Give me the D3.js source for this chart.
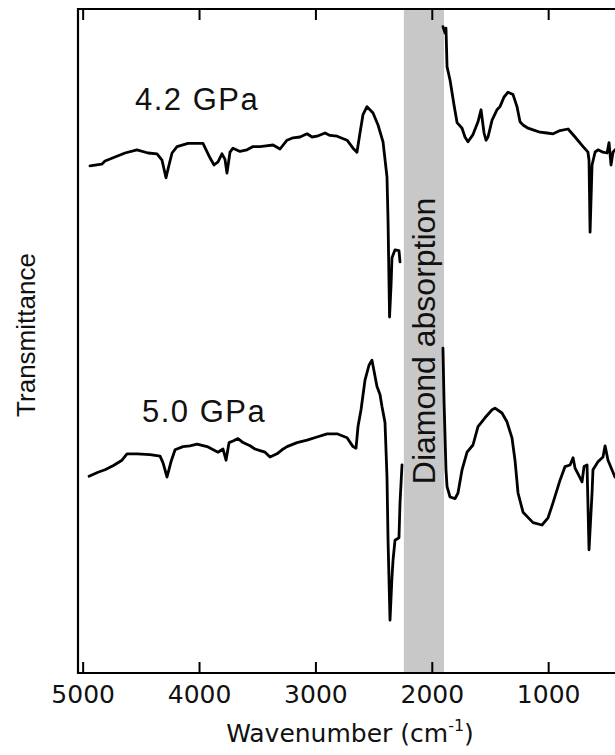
<!DOCTYPE html>
<html>
<head>
<meta charset="utf-8">
<script src="https://cdn.jsdelivr.net/npm/d3@7"></script>
<style>
  html, body { margin: 0; padding: 0; background: #fff; }
  svg { display: block; }
</style>
</head>
<body>
<svg id="chart" width="615" height="755"></svg>
<script>
// IR transmittance spectra of the sample at two pressures (arb. units, offset).
// Each spectrum is split in two pieces around the diamond absorption window.

// 4.2 GPa, high-wavenumber side
const wn42A = [4937,4836,4808,4722,4636,4533,4438,4361,4318,4284,4258,4232,4189,4095,4009,3966,
  3906,3871,3837,3803,3777,3760,3734,3708,3648,3588,3536,3476,3424,3364,3304,3244,3192,3132,
  3072,3029,2986,2917,2875,2814,2728,2677,2643,2617,2591,2557,2505,2462,2419,2385,2376,2363,
  2350,2342,2316,2282,2273];
const tr42A = [63.4,63.6,64.0,64.5,65.0,65.4,65.0,64.9,64.1,61.9,63.5,65.0,65.8,66.2,66.2,66.2,
  64.4,63.5,63.9,64.9,64.2,62.5,65.1,65.6,65.2,65.4,65.8,65.8,65.9,66.0,65.5,66.6,66.9,67.0,
  67.4,67.0,67.1,67.5,67.2,67.1,66.6,65.6,65.1,67.5,69.8,70.8,70.0,68.5,66.4,62.0,56.6,44.5,
  48.5,51.9,52.9,52.8,51.4];

// 4.2 GPa, low-wavenumber side
const wn42B = [1904,1886,1878,1869,1843,1809,1783,1740,1715,1689,1646,1603,1577,1551,1534,1517,
  1482,1440,1414,1379,1345,1302,1268,1242,1216,1173,1130,1070,1010,958,898,829,769,700,658,
  649,640,623,597,572,529,494,477,460,443,426];
const tr42B = [80.8,80.0,80.6,75.8,74.1,71.0,68.8,68.1,67.0,66.4,67.3,68.9,70.4,67.5,66.6,67.0,
  69.1,70.4,70.8,72.0,72.6,72.3,70.8,68.9,68.5,68.1,67.9,67.6,67.5,67.4,67.8,68.0,67.0,65.8,
  65.1,64.1,55.1,63.5,65.1,65.4,65.1,65.0,66.3,63.5,65.1,65.4];

// 5.0 GPa, high-wavenumber side
const wn50A = [4945,4868,4808,4739,4662,4619,4533,4421,4335,4310,4275,4241,4206,4138,4078,4017,
  3931,3837,3794,3768,3742,3708,3665,3622,3562,3519,3476,3433,3390,3330,3287,3244,3158,3072,
  2986,2900,2814,2728,2677,2651,2634,2608,2574,2539,2514,2471,2445,2428,2402,2385,2376,2359,
  2342,2333,2316,2282,2273,2256];
const tr50A = [24.6,25.1,25.4,25.9,26.6,27.4,27.4,27.3,27.1,26.3,24.5,26.4,27.9,28.3,28.4,28.6,
  28.3,27.6,28.0,26.6,28.8,29.0,29.3,28.8,28.4,28.0,27.8,27.6,27.0,27.4,27.9,28.3,28.8,29.1,
  29.5,29.9,29.9,29.4,28.3,28.1,30.8,32.9,36.6,38.5,39.1,35.8,34.8,33.3,31.3,24.5,16.6,6.6,
  12.0,14.1,16.6,16.9,21.3,26.0];

// 5.0 GPa, low-wavenumber side
const wn50B = [1904,1895,1878,1869,1843,1800,1775,1740,1697,1646,1603,1543,1482,1457,1397,1354,
  1311,1285,1259,1216,1130,1053,1001,958,898,855,812,786,769,726,709,692,666,649,623,615,572,
  529,511,486,426];
const tr50B = [40.6,34.1,25.4,23.3,22.0,21.8,22.5,25.4,27.6,28.5,30.8,31.9,32.9,33.1,32.5,31.4,
  29.4,26.6,22.5,20.1,18.8,18.5,19.4,21.3,24.1,25.8,26.0,26.9,25.6,24.4,23.9,25.8,26.0,15.4,
  22.5,25.4,26.4,27.0,28.4,26.6,24.5];

const xTicks = [5000, 4000, 3000, 2000, 1000];
const diamondBand = [2240, 1895];
const pressureLabels = ["4.2 GPa", "5.0 GPa"];

const svg = d3.select("#chart");
const W = 615;
const m = { left: 78, top: 9, bottom: 673, right: 618 };

const x = d3.scaleLinear().domain([5040, 400]).range([m.left, m.right]);
const y = d3.scaleLinear().domain([0, 83]).range([m.bottom, m.top]);

// diamond absorption window
svg.append("rect")
  .attr("x", x(diamondBand[0]))
  .attr("y", m.top)
  .attr("width", x(diamondBand[1]) - x(diamondBand[0]))
  .attr("height", m.bottom - m.top)
  .attr("fill", "#c8c8c8");

svg.append("text")
  .attr("transform", `translate(${x(diamondBand[0]) + 31},341) rotate(-90)`)
  .attr("text-anchor", "middle")
  .attr("font-family", "Liberation Sans, Arial, sans-serif")
  .attr("font-size", 32)
  .attr("fill", "#111")
  .text("Diamond absorption");

// spectra
const line = d3.line().x(d => x(d[0])).y(d => y(d[1]));
const segments = [
  d3.zip(wn42A, tr42A), d3.zip(wn42B, tr42B),
  d3.zip(wn50A, tr50A), d3.zip(wn50B, tr50B)
];
svg.append("g")
  .selectAll("path")
  .data(segments)
  .join("path")
  .attr("d", line)
  .attr("fill", "none")
  .attr("stroke", "#000")
  .attr("stroke-width", 2.8)
  .attr("stroke-linejoin", "round")
  .attr("stroke-linecap", "round");

// pressure labels
const labelPos = [[135, 110], [142, 422]];
svg.append("g")
  .selectAll("text")
  .data(pressureLabels)
  .join("text")
  .attr("x", (d, i) => labelPos[i][0])
  .attr("y", (d, i) => labelPos[i][1])
  .attr("font-family", "Liberation Sans, Arial, sans-serif")
  .attr("font-size", 31)
  .attr("letter-spacing", 1.5)
  .attr("fill", "#111")
  .text(d => d);

// bottom axis (ticks point inward)
const bottomAxis = svg.append("g").attr("transform", `translate(0,${m.bottom})`)
  .call(d3.axisBottom(x).tickValues(xTicks).tickSize(-11).tickPadding(0).tickFormat(d3.format("d")));
bottomAxis.select(".domain").remove();
bottomAxis.selectAll(".tick line").attr("stroke", "#000").attr("stroke-width", 2);
bottomAxis.selectAll(".tick text")
  .attr("y", 30)
  .attr("dy", 0)
  .attr("font-family", "DejaVu Sans, Verdana, sans-serif")
  .attr("font-size", 25)
  .attr("fill", "#111");

// top axis (ticks point inward, no labels)
const topAxis = svg.append("g").attr("transform", `translate(0,${m.top})`)
  .call(d3.axisTop(x).tickValues(xTicks).tickSize(-11).tickFormat(""));
topAxis.select(".domain").remove();
topAxis.selectAll(".tick line").attr("stroke", "#000").attr("stroke-width", 2);

// frame
svg.append("path")
  .attr("d", `M${W},${m.top}H${m.left}V${m.bottom}H${W}`)
  .attr("fill", "none")
  .attr("stroke", "#000")
  .attr("stroke-width", 2.2);

// axis titles
const xt = svg.append("text")
  .attr("x", 350)
  .attr("y", 742)
  .attr("text-anchor", "middle")
  .attr("font-family", "DejaVu Sans, Verdana, sans-serif")
  .attr("font-size", 25)
  .attr("fill", "#111");
xt.append("tspan").text("Wavenumber (cm");
xt.append("tspan").attr("dy", -11).attr("font-size", 16).text("-1");
xt.append("tspan").attr("dy", 11).text(")");

svg.append("text")
  .attr("transform", "translate(35,335) rotate(-90)")
  .attr("text-anchor", "middle")
  .attr("font-family", "Liberation Sans, Arial, sans-serif")
  .attr("font-size", 26)
  .attr("fill", "#111")
  .text("Transmittance");
</script>
</body>
</html>
